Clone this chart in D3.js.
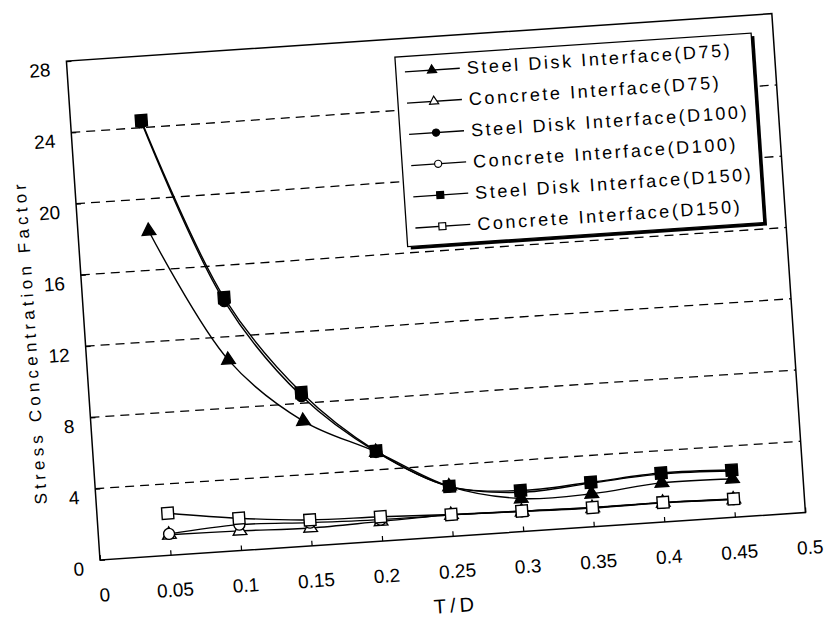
<!DOCTYPE html>
<html>
<head>
<meta charset="utf-8">
<script src="https://cdn.jsdelivr.net/npm/d3@7"></script>
<style>
  html, body { margin: 0; padding: 0; background: #fff; }
  svg { display: block; font-family: "Liberation Sans", Arial, sans-serif; }
</style>
</head>
<body>
<svg id="chart" width="826" height="619"></svg>
<script>
// T/D ratios at which the stress concentration factor was evaluated
const tdValues = [0.05, 0.1, 0.15, 0.2, 0.25, 0.3, 0.35, 0.4, 0.45];

// Stress concentration factor per interface / disk diameter
const steelD75     = [18.2, 10.7, 7.0, 5.0, 2.8, 1.85, 1.85, 2.2, 2.15];
const concreteD75  = [1.15, 1.1, 1.0, 1.1, 1.2, 1.12, 1.05, 1.08, 1.0];
const steelD100    = [24.3, 14.0, 8.4, 5.0, 2.8, 2.2, 2.45, 2.7, 2.6];
const concreteD100 = [1.2, 1.45, 1.3, 1.2, 1.2, 1.14, 1.07, 1.09, 1.02];
const steelD150    = [24.4, 14.2, 8.6, 5.05, 2.8, 2.3, 2.5, 2.75, 2.65];
const concreteD150 = [2.36, 1.81, 1.45, 1.36, 1.22, 1.15, 1.08, 1.1, 1.03];

const seriesNames = [
  "Steel Disk Interface(D75)",
  "Concrete Interface(D75)",
  "Steel Disk Interface(D100)",
  "Concrete Interface(D100)",
  "Steel Disk Interface(D150)",
  "Concrete Interface(D150)"
];

const xTicks = [0, 0.05, 0.1, 0.15, 0.2, 0.25, 0.3, 0.35, 0.4, 0.45, 0.5];
const xTickLabels = ["0", "0.05", "0.1", "0.15", "0.2", "0.25", "0.3", "0.35", "0.4", "0.45", "0.5"];
const yTicks = [0, 4, 8, 12, 16, 20, 24, 28];
const yTickLabels = ["0", "4", "8", "12", "16", "20", "24", "28"];
const gridValues = [4, 8, 12, 16, 20, 24];

const xTitle = "T/D";
const yTitle = "Stress Concentration Factor";

// marker style per series: symbol shape and whether it is filled
const seriesValues = [steelD75, concreteD75, steelD100, concreteD100, steelD150, concreteD150];
const shapes = [d3.symbolTriangle, d3.symbolTriangle, d3.symbolCircle, d3.symbolCircle, d3.symbolSquare, d3.symbolSquare];
const shapeSize = [80, 80, 95, 95, 135, 135];
const legendShapeSize = [36, 36, 40, 40, 48, 48];
const filled = [true, false, true, false, true, false];

const series = seriesNames.map((name, i) => ({
  name,
  points: tdValues.map((t, j) => [t, seriesValues[i][j]]),
  shape: shapes[i],
  size: shapeSize[i],
  legendSize: legendShapeSize[i],
  filled: filled[i]
}));

// plot frame (the whole chart sits slightly tilted on the page)
const W = 707, H = 500;
const originX = 100, originY = 560, tilt = -3.85;

const svg = d3.select("#chart");
const g = svg.append("g")
  .attr("transform", `translate(${originX},${originY}) rotate(${tilt}) translate(0,${-H})`);

const x = d3.scaleLinear().domain([0, 0.5]).range([0, W]);
const y = d3.scaleLinear().domain([0, 28]).range([H, 0]);

// dashed horizontal gridlines
g.append("g").selectAll("line")
  .data(gridValues)
  .join("line")
  .attr("x1", 0).attr("x2", W)
  .attr("y1", d => y(d)).attr("y2", d => y(d))
  .attr("stroke", "#000")
  .attr("stroke-width", 1.3)
  .attr("stroke-dasharray", "9,6");

// x axis with inward ticks
const xAxis = g.append("g")
  .attr("transform", `translate(0,${H})`)
  .call(d3.axisBottom(x).tickValues(xTicks).tickSizeInner(-5).tickSizeOuter(0)
    .tickFormat((d, i) => xTickLabels[i]));
xAxis.select(".domain").remove();
xAxis.selectAll(".tick line").attr("stroke", "#000").attr("stroke-width", 1.2);
xAxis.selectAll("text")
  .attr("y", 35).attr("x", 2).attr("dy", "0.35em")
  .attr("font-size", 19)
  .attr("font-family", "'Liberation Sans', Arial, sans-serif")
  .attr("fill", "#000");

// y axis with inward ticks
const yAxis = g.append("g")
  .call(d3.axisLeft(y).tickValues(yTicks).tickSizeInner(-5).tickSizeOuter(0)
    .tickFormat((d, i) => yTickLabels[i]));
yAxis.select(".domain").remove();
yAxis.selectAll(".tick line").attr("stroke", "#000").attr("stroke-width", 1.2);
yAxis.selectAll("text")
  .attr("x", -16.5).attr("y", 7).attr("dy", "0.35em")
  .attr("font-size", 19)
  .attr("font-family", "'Liberation Sans', Arial, sans-serif")
  .attr("fill", "#000");

// plot border
g.append("rect")
  .attr("x", 0).attr("y", 0).attr("width", W).attr("height", H)
  .attr("fill", "none").attr("stroke", "#000").attr("stroke-width", 1.5);

// axis titles
g.append("text")
  .attr("x", 352).attr("y", H + 69).attr("dy", "0.35em")
  .attr("text-anchor", "middle")
  .attr("font-size", 20)
  .attr("letter-spacing", "4px")
  .text(xTitle);

g.append("text")
  .attr("transform", `translate(-55,278) rotate(-90)`)
  .attr("dy", "0.35em")
  .attr("text-anchor", "middle")
  .attr("font-size", 17)
  .attr("letter-spacing", "4.2px")
  .text(yTitle);

// smoothed series lines
const line = d3.line()
  .x(d => x(d[0]))
  .y(d => y(d[1]))
  .curve(d3.curveCatmullRom.alpha(0.5));

g.append("g").selectAll("path")
  .data(series)
  .join("path")
  .attr("d", d => line(d.points))
  .attr("fill", "none")
  .attr("stroke", "#000")
  .attr("stroke-width", 1.4);

// point markers
series.forEach(s => {
  const sym = d3.symbol().type(s.shape).size(s.size);
  g.append("g").selectAll("path")
    .data(s.points)
    .join("path")
    .attr("transform", d => `translate(${x(d[0])},${y(d[1])})`)
    .attr("d", sym)
    .attr("fill", s.filled ? "#000" : "#fff")
    .attr("stroke", "#000")
    .attr("stroke-width", 1.4);
});

// legend box with drop shadow
const legend = g.append("g");
const lx = 328, ly = 18, lw = 357, lh = 190;
legend.append("rect")
  .attr("x", lx + 3).attr("y", ly + 3).attr("width", lw).attr("height", lh)
  .attr("fill", "#000");
legend.append("rect")
  .attr("x", lx).attr("y", ly).attr("width", lw).attr("height", lh)
  .attr("fill", "#fff").attr("stroke", "#000").attr("stroke-width", 1.3);

const rowY = i => 33.5 + i * 31.3;
const item = legend.selectAll("g.item")
  .data(series)
  .join("g")
  .attr("class", "item")
  .attr("transform", (d, i) => `translate(0,${rowY(i)})`);

item.append("line")
  .attr("x1", 337).attr("x2", 392).attr("y1", 0).attr("y2", 0)
  .attr("stroke", "#000").attr("stroke-width", 1.4);

item.append("path")
  .attr("transform", "translate(364,0)")
  .attr("d", d => d3.symbol().type(d.shape).size(d.legendSize)())
  .attr("fill", d => d.filled ? "#000" : "#fff")
  .attr("stroke", "#000")
  .attr("stroke-width", 1.2);

item.append("text")
  .attr("x", 399).attr("y", 0).attr("dy", "0.35em")
  .attr("font-size", 18)
  .attr("letter-spacing", "2.6px")
  .text(d => d.name);
</script>
</body>
</html>
